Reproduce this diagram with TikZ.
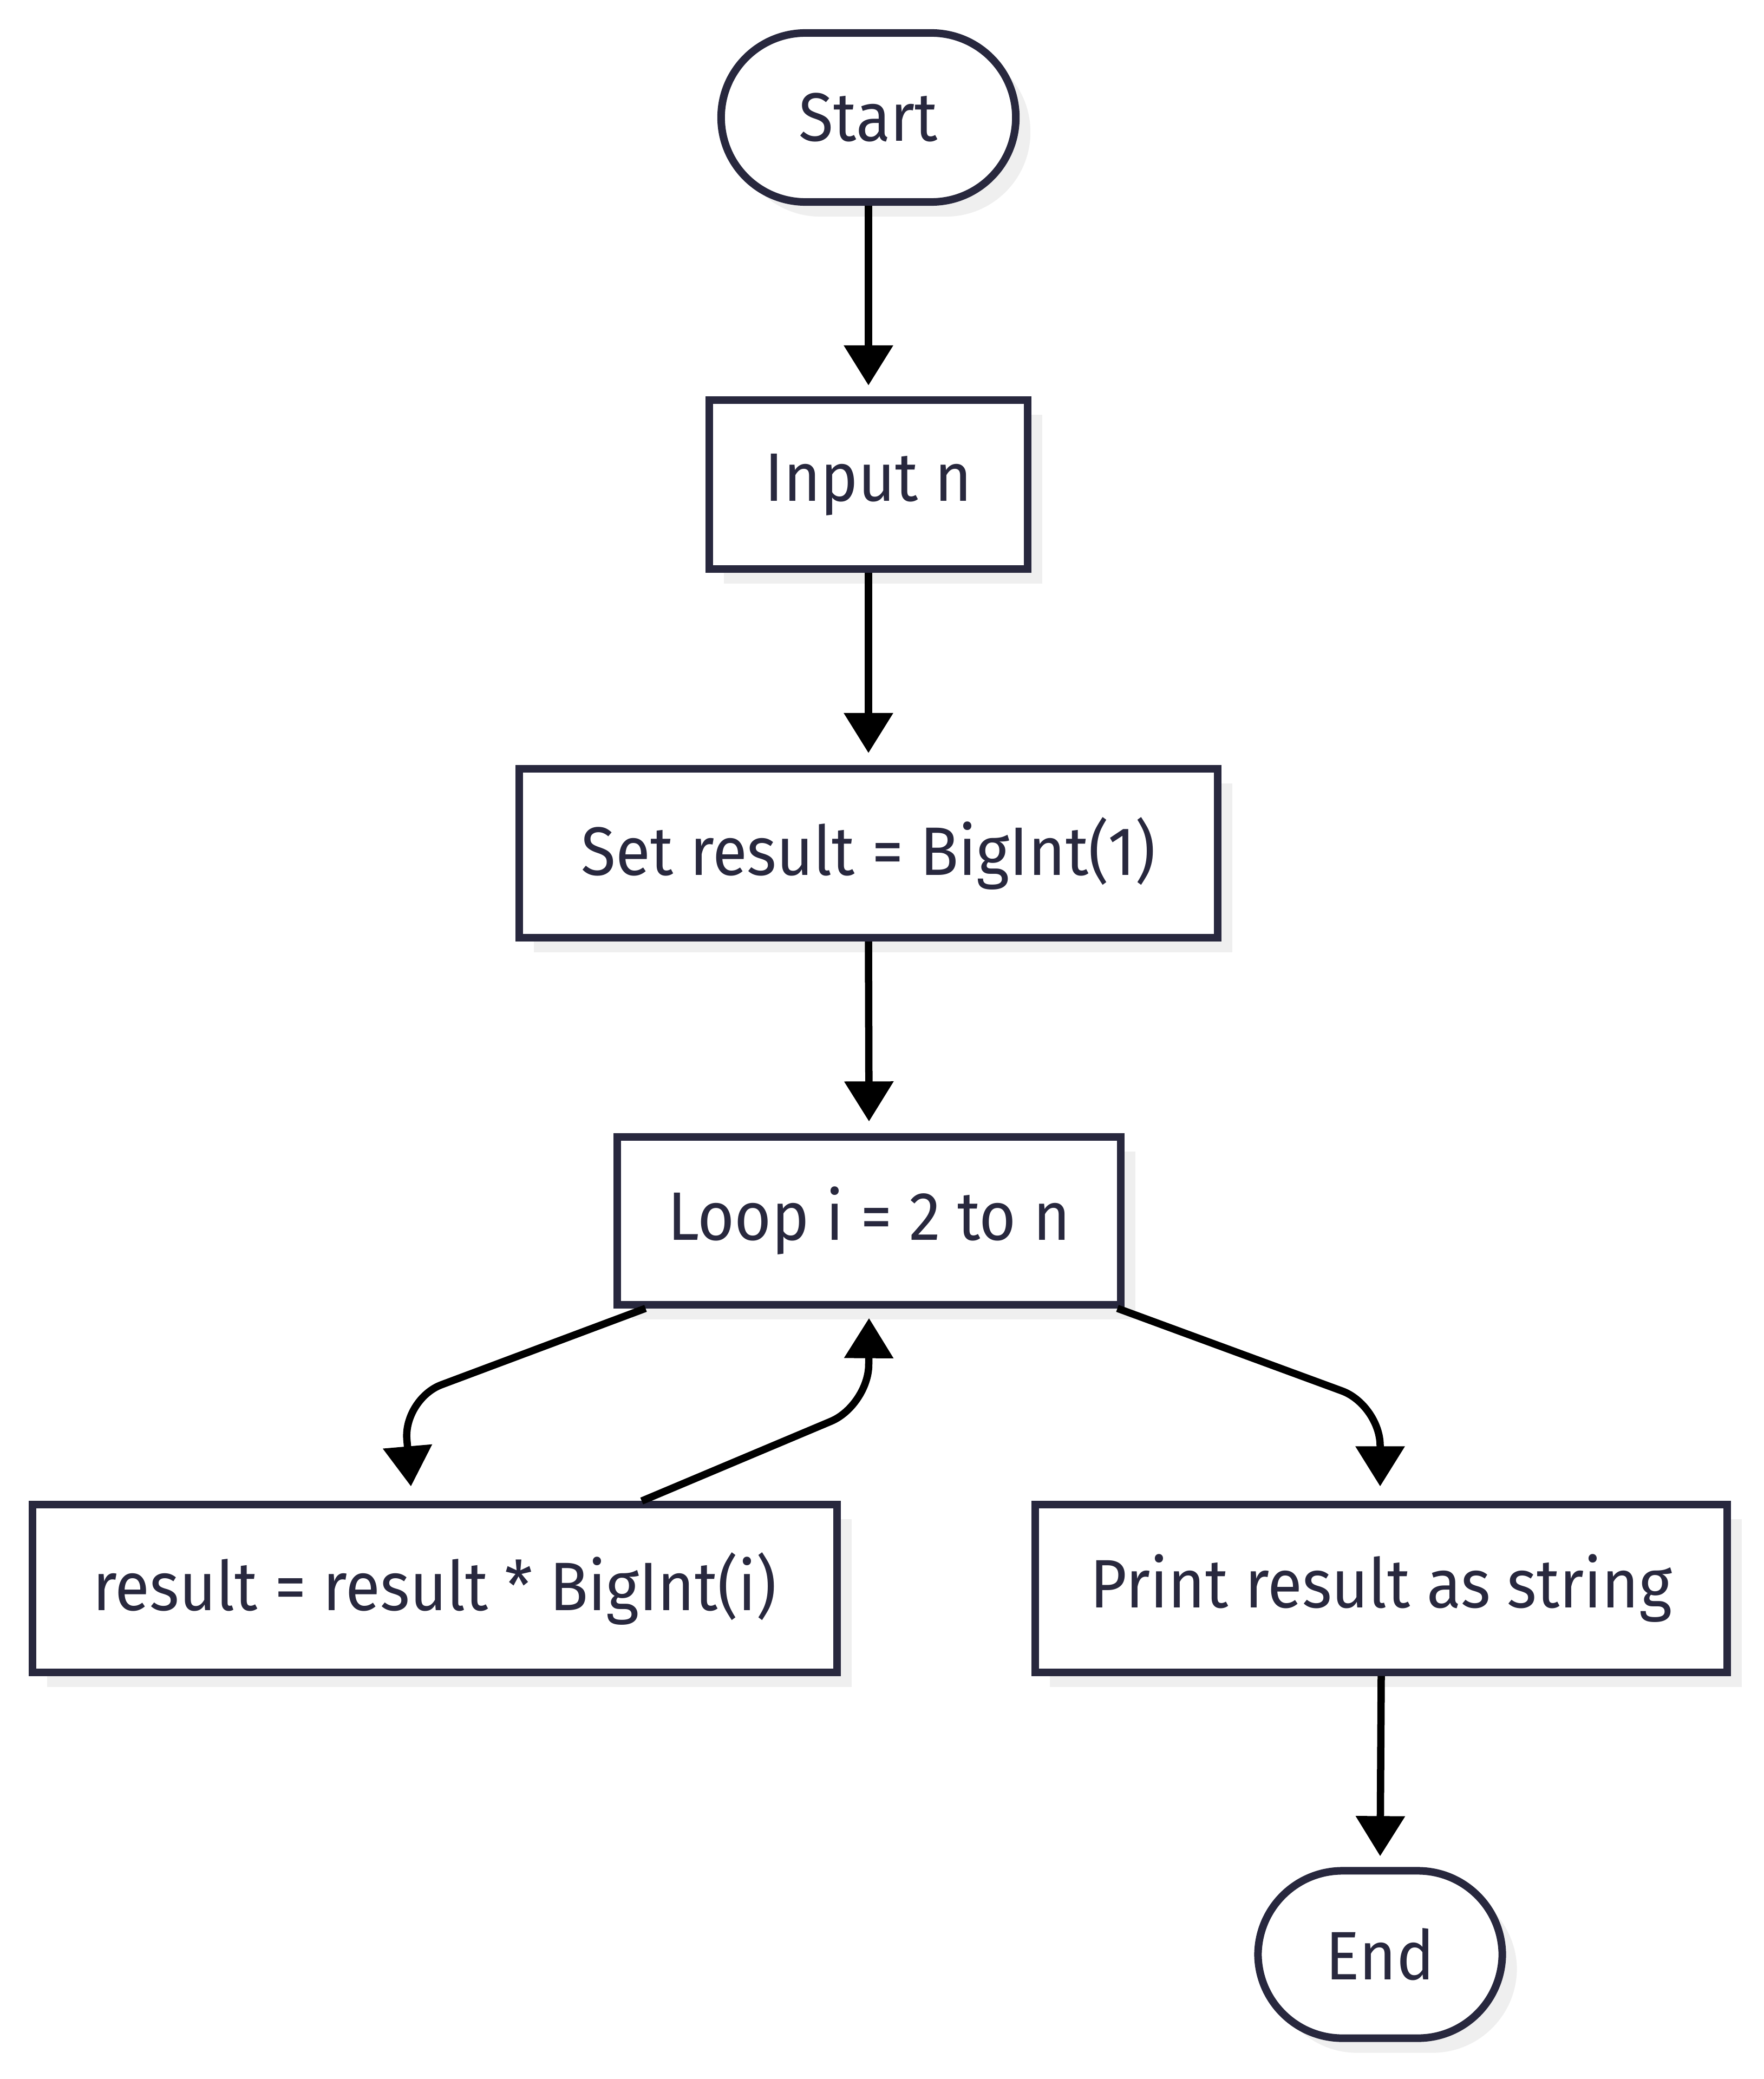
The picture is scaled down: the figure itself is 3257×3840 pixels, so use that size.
\documentclass[tikz,border=0pt]{standalone}
\usepackage{fontspec}
\setmainfont{Fira Sans}[FakeStretch=0.925]
\usetikzlibrary{arrows.meta,shadows}
\definecolor{ink}{RGB}{40,40,62}
\definecolor{shade}{RGB}{239,239,239}
\begin{document}
\begin{tikzpicture}[x=0.01cm,y=-0.01cm,
  box/.style={draw=ink, line width=0.14cm, fill=white, text=ink,
    font=\fontsize{36}{43}\selectfont, inner sep=0pt,
    drop shadow={fill=shade, opacity=1, shadow xshift=0.27cm, shadow yshift=-0.27cm}},
  term/.style={box, rounded corners=1.56cm},
  link/.style={line width=0.135cm, draw=black,
    -{Triangle[length=0.74cm,width=0.88cm]}, rounded corners=0.75cm}]
\useasboundingbox (0,0) rectangle (3257,3840);
\node[term, minimum width=5.44cm, minimum height=3.12cm] (start) at (1604,217) {Start};
\node[box, minimum width=5.88cm, minimum height=3.12cm] (input) at (1604,895) {Input n};
\node[box, minimum width=12.89cm, minimum height=3.12cm] (set) at (1604,1576) {Set result = BigInt(1)};
\node[box, minimum width=9.29cm, minimum height=3.09cm] (loop) at (1605,2255) {Loop i = 2 to n};
\node[box, minimum width=14.85cm, minimum height=3.09cm] (res) at (803,2934) {result = result * BigInt(i)};
\node[box, minimum width=12.77cm, minimum height=3.09cm] (print) at (2551,2934) {Print result as string};
\node[term, minimum width=4.51cm, minimum height=3.09cm] (end) at (2549,3610) {End};

\coordinate (cl) at (745,2584);
\coordinate (cr) at (2549,2595);
\coordinate (cb) at (1604,2596);

\draw[link] (start.south) -- ([yshift=0.2cm]input.north);
\draw[link] (input.south) -- ([yshift=0.22cm]set.north);
\draw[link] (set.south) -- ([yshift=0.22cm]loop.north);
\draw[link] ([xshift=0.59cm]loop.south west) -- (cl) -- ([xshift=-0.44cm,yshift=0.27cm]res.north);
\draw[link] ([xshift=3.82cm]res.north) -- (cb) -- ([yshift=-0.18cm]loop.south);
\draw[link] ([xshift=-0.13cm]loop.south east) -- (cr) -- ([xshift=-0.02cm,yshift=0.27cm]print.north);
\draw[link] (print.south) -- ([yshift=0.2cm]end.north);
\end{tikzpicture}
\end{document}
